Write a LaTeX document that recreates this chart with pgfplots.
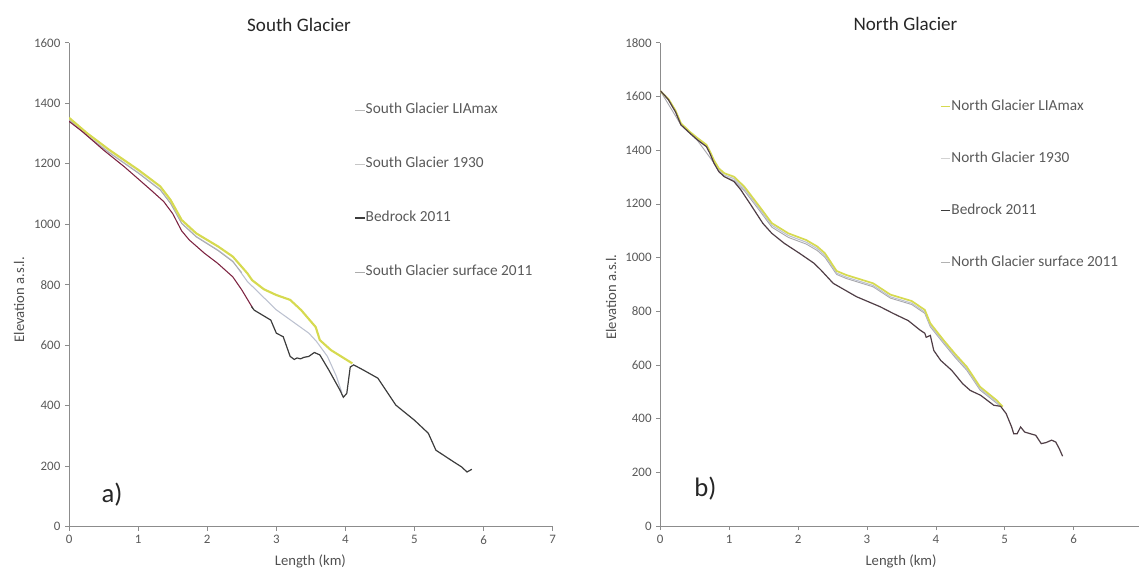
\documentclass[border=0pt]{standalone}
\usepackage{fontspec}
\setmainfont{Carlito}
\usepackage{pgfplots}
\pgfplotsset{compat=1.18}

\definecolor{liayel}{RGB}{214,218,80}
\definecolor{gthirty}{RGB}{188,193,208}
\definecolor{bedred}{RGB}{125,35,65}
\definecolor{beddark}{RGB}{60,60,60}
\definecolor{bednorth}{RGB}{80,62,70}
\definecolor{surfg}{RGB}{170,170,175}
\definecolor{axgray}{RGB}{140,140,140}
\definecolor{txtgray}{RGB}{89,89,89}

\pgfplotsset{
  glacier/.style={
    scale only axis,
    anchor=south west,
    axis x line*=bottom,
    axis y line*=left,
    axis line style={-, axgray, line width=0.6pt},
    tick style={axgray, line width=0.5pt},
    tick align=outside,
    major tick length=3pt,
    ticklabel style={font=\fontsize{9.7}{11}\selectfont, text=txtgray},
    /pgf/number format/assume math mode=true,
    /pgf/number format/1000 sep={},
    xmin=0, xmax=7, ymin=0,
    xtick={0,1,...,7},
    legend cell align=left,
    legend image code/.code={\draw[#1] (0pt,0pt) -- (7pt,0pt);},
    legend style={draw=none, fill=none, inner sep=0pt, anchor=north west,
      font=\fontsize{11.5}{12}\selectfont, text=txtgray, column sep=0.5pt,
      nodes={inner sep=0pt, text height=8pt, text depth=2pt}},
  },
}

\begin{document}
\begin{tikzpicture}

% South Glacier
\begin{axis}[glacier,
  at={(51.8pt,31.7pt)}, width=362.7pt, height=363pt,
  ymax=1600, ytick={0,200,...,1600},
  legend style={at={(rel axis cs:0.590,0.8754)}, row sep=30.5pt},
]
\addplot[forget plot, gthirty, line width=0.8pt] coordinates {
(0,1346) (0.26,1294) (0.58,1238) (1.0,1171) (1.32,1115) (1.47,1070) (1.63,1004)
(1.84,960) (2.16,914) (2.37,878) (2.58,811) (3.0,717) (3.47,640) (3.58,613)
(3.74,563) (3.87,497) (3.95,442)
};
\addplot[forget plot, surfg, line width=0.6pt] coordinates {
(0,1344) (0.26,1292) (0.58,1236) (1.0,1169) (1.32,1113) (1.47,1068) (1.63,1002)
(1.84,958) (2.16,912) (2.37,876) (2.5,840)
};
\addplot[forget plot, liayel, line width=1.6pt] coordinates {
(0,1352) (0.26,1301) (0.58,1246) (1.0,1180) (1.32,1125) (1.47,1080) (1.63,1014)
(1.84,970) (2.16,926) (2.37,893) (2.58,838) (2.65,815) (2.82,785) (3.0,766)
(3.2,750) (3.36,716) (3.57,660) (3.63,617) (3.79,584) (4.1,540)
};
\addplot[forget plot, bedred, line width=0.8pt] coordinates {
(0,1340) (0.2,1305) (0.5,1245) (0.8,1190) (1.0,1150) (1.2,1110) (1.37,1075)
(1.5,1035) (1.63,978) (1.74,948) (1.96,904) (2.15,871) (2.37,826) (2.5,783)
(2.6,745) (2.66,722)
};
\addplot[forget plot, beddark, line width=0.9pt] coordinates {
(2.64,728) (2.68,716) (2.92,683) (3.0,640) (3.1,628) (3.2,563) (3.26,553)
(3.3,558) (3.35,555) (3.4,560) (3.47,563) (3.55,576) (3.63,568) (3.76,518)
(3.84,485) (3.92,452) (3.97,428) (4.02,441) (4.07,528) (4.12,535) (4.26,518)
(4.47,491) (4.73,402) (5.0,352) (5.2,309) (5.31,253) (5.57,214) (5.68,198)
(5.76,181) (5.83,190)
};
\addlegendimage{gray!55, line width=0.7pt}
\addlegendentry{South Glacier LIAmax}
\addlegendimage{gray!45, line width=0.7pt}
\addlegendentry{South Glacier 1930}
\addlegendimage{beddark, line width=0.8pt}
\addlegendentry{Bedrock 2011}
\addlegendimage{gray!65, line width=0.7pt}
\addlegendentry{South Glacier surface 2011}
\end{axis}

% North Glacier
\begin{axis}[glacier,
  at={(495.2pt,32.2pt)}, width=361.7pt, height=362.5pt,
  ymax=1800, ytick={0,200,...,1800},
  xticklabels={0,1,2,3,4,5,6,{}},
  legend style={at={(rel axis cs:0.580,0.8816)}, row sep=29pt},
]
\addplot[forget plot, surfg, line width=0.7pt] coordinates {
(0,1621) (0.3,1494) (0.54,1436) (0.78,1352) (0.93,1302) (1.07,1287) (1.22,1249)
(1.44,1175) (1.62,1113) (1.86,1075) (2.12,1050) (2.28,1026) (2.39,1001)
(2.56,937) (2.70,922) (3.09,891) (3.34,849) (3.65,825) (3.84,792) (3.92,742)
(4.11,681) (4.28,628) (4.45,580) (4.64,507) (4.88,458) (4.94,446)
};
\addplot[forget plot, gthirty, line width=0.8pt] coordinates {
(0,1621) (0.12,1589) (0.22,1546) (0.30,1497) (0.43,1466) (0.54,1442) (0.67,1417)
(0.72,1393) (0.78,1358) (0.85,1327) (0.93,1307) (1.07,1294) (1.22,1256)
(1.44,1182) (1.62,1120) (1.86,1082) (2.12,1057) (2.28,1033) (2.39,1008)
(2.56,942) (2.70,927) (3.09,896) (3.34,854) (3.65,830) (3.84,797) (3.92,747)
(4.11,686) (4.28,634) (4.45,586) (4.64,512) (4.88,462) (4.95,446)
};
\addplot[forget plot, liayel, line width=1.3pt] coordinates {
(0,1621) (0.12,1590) (0.22,1548) (0.30,1500) (0.43,1468) (0.54,1445) (0.67,1420)
(0.72,1396) (0.78,1362) (0.85,1332) (0.93,1314) (1.07,1301) (1.22,1264)
(1.44,1190) (1.62,1128) (1.86,1090) (2.12,1065) (2.28,1041) (2.39,1016)
(2.56,950) (2.70,935) (3.09,904) (3.34,862) (3.65,838) (3.84,805) (3.92,755)
(4.11,693) (4.28,641) (4.45,593) (4.64,519) (4.88,469) (4.97,445)
};
\addplot[forget plot, bednorth, line width=0.9pt] coordinates {
(0,1621) (0.06,1605) (0.12,1587) (0.18,1560) (0.22,1543) (0.30,1494) (0.43,1463)
(0.54,1438) (0.67,1413) (0.72,1388) (0.78,1351) (0.85,1320) (0.93,1301)
(1.07,1283) (1.17,1252) (1.33,1190) (1.49,1127) (1.62,1090) (1.80,1053)
(2.02,1016) (2.23,979) (2.33,954) (2.51,904) (2.85,854) (3.19,817) (3.38,792)
(3.60,765) (3.77,730) (3.84,718) (3.86,703) (3.92,710) (3.97,654) (4.07,617)
(4.23,580) (4.39,530) (4.50,505) (4.65,487) (4.84,450) (4.94,446) (5.02,419)
(5.10,369) (5.13,344) (5.18,344) (5.23,369) (5.29,350) (5.45,338) (5.53,307)
(5.60,311) (5.68,320) (5.74,313) (5.79,289) (5.84,260)
};
\addlegendimage{liayel, line width=0.9pt}
\addlegendentry{North Glacier LIAmax}
\addlegendimage{gray!35, line width=0.7pt}
\addlegendentry{North Glacier 1930}
\addlegendimage{beddark, line width=0.8pt}
\addlegendentry{Bedrock 2011}
\addlegendimage{gray!60, line width=0.7pt}
\addlegendentry{North Glacier surface 2011}
\end{axis}

% titles and labels
\node[font=\fontsize{14.3}{16}\selectfont, text=black!85] at (224.3pt,408pt) {South Glacier};
\node[font=\fontsize{14.3}{16}\selectfont, text=black!85] at (679.1pt,408.7pt) {North Glacier};
\node[font=\fontsize{11}{13}\selectfont, text=txtgray!90!black] at (232.8pt,5.8pt) {Length (km)};
\node[font=\fontsize{11}{13}\selectfont, text=txtgray!90!black] at (675.8pt,5.8pt) {Length (km)};
\node[font=\fontsize{11}{13}\selectfont, text=txtgray!90!black, rotate=90] at (14.3pt,202pt) {Elevation a.s.l.};
\node[font=\fontsize{11}{13}\selectfont, text=txtgray!90!black, rotate=90] at (458.3pt,204pt) {Elevation a.s.l.};
\node[font=\fontsize{20}{22}\selectfont, text=black!85] at (84pt,56pt) {a)};
\node[font=\fontsize{20}{22}\selectfont, text=black!85] at (529.1pt,60pt) {b)};

\pgfresetboundingbox
\path[use as bounding box] (0,0) rectangle (854.25pt,426.75pt);
\end{tikzpicture}
\end{document}
